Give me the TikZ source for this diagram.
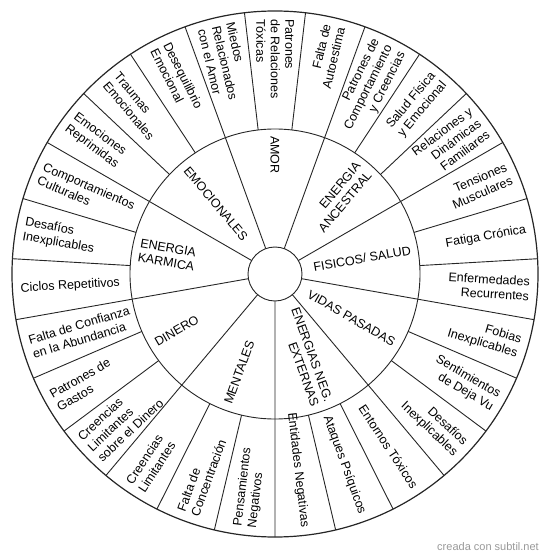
\documentclass[tikz,border=0pt]{standalone}
\usepackage{fontspec}
\setmainfont{Liberation Sans}
\usepackage{tikz}
\usetikzlibrary{positioning}

\newcommand{\wheelfont}{\fontsize{12.5}{14.5}\selectfont}
\newcommand{\markfont}{\fontsize{11}{13}\selectfont}

\begin{document}
\begin{tikzpicture}[x=1pt, y=1pt, every node/.style={font=\wheelfont, inner sep=1pt},
  lblR/.style={anchor=east, align=right}, lblL/.style={anchor=west, align=left},
  ring/.style={draw=black!85, line width=0.9pt}]
  \useasboundingbox (-275,-286) rectangle (275,274);
  % rings
  \draw[ring, line width=1.2pt] (0,0) circle (263);
  \draw[ring] (0,0) circle (145);
  \draw[ring] (0,0) circle (27);
  % category spokes
  \draw[ring] (70:27) -- (70:263) (30:27) -- (30:263) (-10:27) -- (-10:263)
    (-50:27) -- (-50:263) (-90:27) -- (-90:263) (-130:27) -- (-130:263)
    (190:27) -- (190:263) (150:27) -- (150:263) (110:27) -- (110:263);
  % outer spokes
  \draw[ring] (83.333:145) -- (83.333:263) (96.667:145) -- (96.667:263)
    (56.667:145) -- (56.667:263) (43.333:145) -- (43.333:263)
    (16.667:145) -- (16.667:263) (3.333:145) -- (3.333:263)
    (-23.333:145) -- (-23.333:263) (-36.667:145) -- (-36.667:263)
    (-63.333:145) -- (-63.333:263) (-76.667:145) -- (-76.667:263)
    (-103.333:145) -- (-103.333:263) (-116.667:145) -- (-116.667:263)
    (-143.333:145) -- (-143.333:263) (-156.667:145) -- (-156.667:263)
    (176.667:145) -- (176.667:263) (163.333:145) -- (163.333:263)
    (136.667:145) -- (136.667:263) (123.333:145) -- (123.333:263);

  % categories
  \node[lblL, rotate=-90] (amor) at (90:139) {AMOR};
  \node[lblR, rotate=50] (ancestral) at (50:139) {ENERGIA\\ANCESTRAL};
  \node[lblR, rotate=10] (fisicos) at (10:139) {FISICOS/ SALUD};
  \node[lblR, rotate=-30] (vidas) at (-30:139) {VIDAS PASADAS};
  \node[lblR, rotate=-70] (externas) at (-70:139) {ENERGIAS NEG.\\EXTERNAS};
  \node[lblL, rotate=70] (mentales) at (-110:139) {MENTALES};
  \node[lblL, rotate=30] (dinero) at (-150:139) {DINERO};
  \node[lblL, rotate=-10] (karmica) at (170:139) {ENERGIA\\KARMICA};
  \node[lblL, rotate=-50] (emocionales) at (130:139) {EMOCIONALES};

  % AMOR
  \node[lblR, rotate=76.667] (autoestima) at (76.667:256) {Falta de\\Autoestima};
  \node[lblL, rotate=-90] (toxicas) at (90:256) {Patrones\\de Relaciones\\Tóxicas};
  \node[lblL, rotate=-76.667] (miedos) at (103.333:256) {Miedos\\Relacionados\\con el Amor};
  % ENERGIA ANCESTRAL
  \node[lblR, rotate=63.333] (comportamiento) at (63.333:256) {Patrones de\\Comportamiento\\y Creencias};
  \node[lblR, rotate=50] (salud) at (50:256) {Salud Física\\y Emocional};
  \node[lblR, rotate=36.667] (familiares) at (36.667:256) {Relaciones y\\Dinámicas\\Familiares};
  % FISICOS
  \node[lblR, rotate=23.333] (tensiones) at (23.333:256) {Tensiones\\Musculares};
  \node[lblR, rotate=10] (fatiga) at (10:256) {Fatiga Crónica};
  \node[lblR, rotate=-3.333] (enfermedades) at (-3.333:256) {Enfermedades\\Recurrentes};
  % VIDAS PASADAS
  \node[lblR, rotate=-16.667] (fobias) at (-16.667:256) {Fobias\\Inexplicables};
  \node[lblR, rotate=-30] (dejavu) at (-30:256) {Sentimientos\\de Deja Vu};
  \node[lblR, rotate=-43.333] (desafios) at (-43.333:256) {Desafíos\\Inexplicables};
  % ENERGIAS NEG. EXTERNAS
  \node[lblR, rotate=-56.667] (entornos) at (-56.667:256) {Entornos Tóxicos};
  \node[lblR, rotate=-70] (ataques) at (-70:256) {Ataques Psíquicos};
  \node[lblR, rotate=-83.333] (entidades) at (-83.333:256) {Entidades Negativas};
  % MENTALES
  \node[lblL, rotate=83.333] (pensamientos) at (-96.667:256) {Pensamientos\\Negativos};
  \node[lblL, rotate=70] (concentracion) at (-110:256) {Falta de\\Concentración};
  \node[lblL, rotate=56.667] (limitantes) at (-123.333:256) {Creencias\\Limitantes};
  % DINERO
  \node[lblL, rotate=43.333] (sobredinero) at (-136.667:256) {Creencias\\Limitantes\\sobre el Dinero};
  \node[lblL, rotate=30] (gastos) at (-150:256) {Patrones de\\Gastos};
  \node[lblL, rotate=16.667] (abundancia) at (-163.333:256) {Falta de Confianza\\en la Abundancia};
  % ENERGIA KARMICA
  \node[lblL, rotate=3.333] (ciclos) at (183.333:256) {Ciclos Repetitivos};
  \node[lblL, rotate=-10] (inexplicables) at (170:256) {Desafíos\\Inexplicables};
  \node[lblL, rotate=-23.333] (culturales) at (156.667:256) {Comportamientos\\Culturales};
  % EMOCIONALES
  \node[lblL, rotate=-36.667] (reprimidas) at (143.333:256) {Emociones\\Reprimidas};
  \node[lblL, rotate=-50] (traumas) at (130:256) {Traumas\\Emocionales};
  \node[lblL, rotate=-63.333] (desequilibrio) at (116.667:256) {Desequilibrio\\Emocional};

  \node[font=\markfont, text=black!40] (marca) at (213,-273) {creada con subtil.net};
\end{tikzpicture}
\end{document}
